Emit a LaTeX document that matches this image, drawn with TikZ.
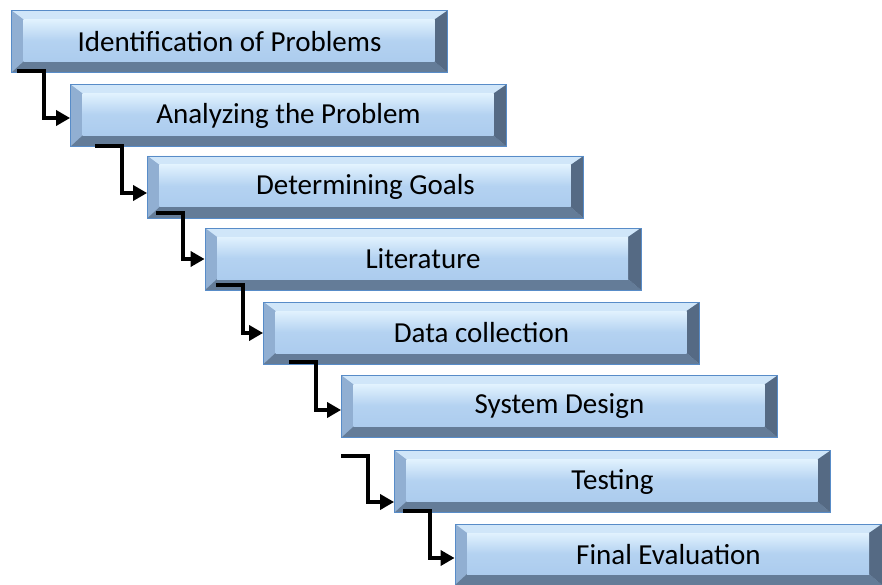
\documentclass[tikz,border=0pt]{standalone}
\usepackage{fontspec}
\setmainfont{Carlito}
\usetikzlibrary{arrows.meta}
\definecolor{bevTop}{RGB}{208,230,249}
\definecolor{bevLeft}{RGB}{145,175,210}
\definecolor{bevBottom}{RGB}{100,124,152}
\definecolor{bevRight}{RGB}{85,106,132}
\definecolor{faceTop}{RGB}{225,242,254}
\definecolor{faceMid}{RGB}{180,210,241}
\definecolor{faceBot}{RGB}{172,204,238}
\definecolor{edgeBlue}{RGB}{88,140,200}

\begin{document}
\begin{tikzpicture}[
      x=1pt, y=-1pt,
      stepbox/.style={
         rectangle,
         draw=edgeBlue,
         line width=0.8pt,
         fill=faceMid,
         minimum width=436pt,
         minimum height=62pt,
         inner sep=0pt,
         font=\fontsize{29}{34}\selectfont,
         path picture={
           \fill[bevTop] (path picture bounding box.north west) -- (path picture bounding box.north east)
             -- ([shift={(-13pt,-9pt)}]path picture bounding box.north east) -- ([shift={(12pt,-9pt)}]path picture bounding box.north west) -- cycle;
           \fill[bevLeft] (path picture bounding box.north west) -- ([shift={(12pt,-9pt)}]path picture bounding box.north west)
             -- ([shift={(12pt,11pt)}]path picture bounding box.south west) -- (path picture bounding box.south west) -- cycle;
           \fill[bevBottom] (path picture bounding box.south west) -- ([shift={(12pt,11pt)}]path picture bounding box.south west)
             -- ([shift={(-13pt,11pt)}]path picture bounding box.south east) -- (path picture bounding box.south east) -- cycle;
           \fill[bevRight] (path picture bounding box.north east) -- ([shift={(-13pt,-9pt)}]path picture bounding box.north east)
             -- ([shift={(-13pt,11pt)}]path picture bounding box.south east) -- (path picture bounding box.south east) -- cycle;
           \shade[top color=faceTop, bottom color=faceBot, middle color=faceMid]
             ([shift={(12pt,-9pt)}]path picture bounding box.north west) rectangle ([shift={(-13pt,11pt)}]path picture bounding box.south east);
         }},
      myarrow/.style={-{Triangle[length=14pt,width=15pt]}, line width=4pt}
      ]
      \useasboundingbox (0,0) rectangle (882,585);

      \node[stepbox] (s1) at (229.5,41.5) {Identification of Problems};
      \node[stepbox] (s2) at (288.5,115.5) {Analyzing the Problem};
      \node[stepbox] (s3) at (365.5,187) {Determining Goals};
      \node[stepbox] (s4) at (423,259) {Literature};
      \node[stepbox] (s5) at (481.5,333) {Data collection};
      \node[stepbox] (s6) at (559.5,406.5) {System Design};
      \node[stepbox] (s7) at (612.5,481.5) {Testing};
      \node[stepbox,minimum width=427pt,minimum height=61pt] (s8) at (668.5,554.5) {Final Evaluation};

    \foreach \i/\j/\sx/\sy/\ey in {% from/to/start shift/end shift
      s1/s2/6/-2/2.5,
      s2/s3/25/-1/6,
      s3/s4/9/-5/0,
      s4/s5/11/-5/0,
      s5/s6/26/-2/3.5,
      s6/s7/0/18/20.5,
      s7/s8/9/-2/3.5}
    \draw [myarrow] ([shift={(\sx,\sy)}]\i.south west) -- ++(27,0) |- ([shift={(0,\ey)}]\j.west);
    \end{tikzpicture}
\end{document}
